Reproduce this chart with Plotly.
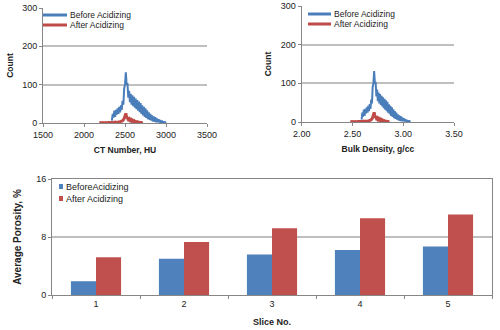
import plotly.graph_objects as go

# ---------------- data ----------------
# histogram of CT number (10 HU bins)
ct_before = list(range(2340, 3001, 10))
count_before = [6, 24, 14, 32, 16, 34, 22, 38, 24, 42, 28, 46, 34, 58, 48, 90, 100, 132, 100, 104,
                66, 84, 54, 76, 48, 72, 44, 68, 40, 64, 36, 60, 32, 56, 28, 52, 24, 46, 20, 42,
                16, 38, 13, 33, 10, 28, 8, 24, 6, 20, 4, 17, 3, 15, 2, 12, 2, 10, 1, 8,
                1, 6, 0, 4, 0, 2, 0]
ct_after = list(range(2190, 2721, 10))
count_after = [0, 1, 0, 1, 0, 1, 0, 1, 0, 1, 0, 1, 1, 0, 1, 1, 0, 1, 2, 1,
               2, 1, 2, 2, 3, 2, 4, 5, 6, 8, 12, 18, 25, 15, 13, 9, 11, 7, 9, 5,
               7, 4, 6, 3, 4, 2, 3, 1, 2, 1, 1, 1, 0, 0]
# CT -> bulk density calibration
dens_at_2340 = 2.59
dens_per_hu = 0.000727
dens_before = [round(dens_at_2340 + (c - 2340) * dens_per_hu, 4) for c in ct_before]
dens_after = [round(dens_at_2340 + (c - 2340) * dens_per_hu, 4) for c in ct_after]

slices = ["1", "2", "3", "4", "5"]
porosity_before = [1.9, 5.0, 5.6, 6.2, 6.7]
porosity_after = [5.2, 7.3, 9.2, 10.6, 11.1]

hist_names = ["Before Acidizing", "After Acidizing"]
bar_names = ["BeforeAcidizing", "After Acidizing"]

BLUE_L = "#4A7EBB"
RED_L = "#BE4B48"
BLUE_B = "#4F81BD"
RED_B = "#C0504D"
AX = "#868686"
GRID = "#BFBFBF"
TXT = "#222222"
FONT = "Liberation Sans, Arial, sans-serif"

fig = go.Figure()

fig.add_trace(go.Scatter(x=ct_before, y=count_before, mode="lines", name=hist_names[0],
                         line=dict(color=BLUE_L, width=2, simplify=False), xaxis="x", yaxis="y"))
fig.add_trace(go.Scatter(x=ct_after, y=count_after, mode="lines", name=hist_names[1],
                         line=dict(color=RED_L, width=3, simplify=False), xaxis="x", yaxis="y"))
fig.add_trace(go.Scatter(x=dens_before, y=count_before, mode="lines", name=hist_names[0],
                         line=dict(color=BLUE_L, width=2, simplify=False), xaxis="x2", yaxis="y2"))
fig.add_trace(go.Scatter(x=dens_after, y=count_after, mode="lines", name=hist_names[1],
                         line=dict(color=RED_L, width=3, simplify=False), xaxis="x2", yaxis="y2"))
fig.add_trace(go.Bar(x=slices, y=porosity_before, name=bar_names[0], marker_color=BLUE_B,
                     marker_line_width=0, xaxis="x3", yaxis="y3"))
fig.add_trace(go.Bar(x=slices, y=porosity_after, name=bar_names[1], marker_color=RED_B,
                     marker_line_width=0, xaxis="x3", yaxis="y3"))

W, H = 500, 330
def dx(a, b):
    return [a / W, b / W]
def dy(top, bottom):
    return [1 - bottom / H, 1 - top / H]

tick_font = dict(family=FONT, size=9, color=TXT)
title_font = dict(family=FONT, size=8.5, color=TXT)

top_x_common = dict(showline=True, linecolor=AX, linewidth=1, ticks="outside", ticklen=3,
                    tickcolor=AX, showgrid=False, zeroline=False, tickfont=tick_font,
                    automargin=False)
top_y_common = dict(range=[0, 300], tickvals=[0, 100, 200, 300], showline=True, linecolor=AX,
                    linewidth=1, ticks="outside", ticklen=3, tickcolor=AX, showgrid=True,
                    gridcolor=GRID, gridwidth=1.5, zeroline=False, tickfont=tick_font,
                    automargin=False,
                    title=dict(text="<b>Count</b>", font=title_font, standoff=7))

fig.update_layout(
    width=W, height=H,
    margin=dict(l=0, r=0, t=0, b=0),
    paper_bgcolor="white", plot_bgcolor="white",
    font=dict(family=FONT, color=TXT),
    barmode="group", bargap=0.43, bargroupgap=0,
    showlegend=False,
    xaxis=dict(domain=dx(43, 207), range=[1500, 3500], tickvals=[1500, 2000, 2500, 3000, 3500],
               title=dict(text="<b>CT Number, HU</b>", font=title_font, standoff=8),
               anchor="y", **top_x_common),
    yaxis=dict(domain=dy(8, 123), anchor="x", **top_y_common),
    xaxis2=dict(domain=dx(301.7, 454), range=[2.0, 3.5], tickvals=[2.0, 2.5, 3.0, 3.5],
                tickformat=".2f",
                title=dict(text="<b>Bulk Density, g/cc</b>", font=title_font, standoff=8),
                anchor="y2", **top_x_common),
    yaxis2=dict(domain=dy(6, 122), anchor="x2", **top_y_common),
    xaxis3=dict(domain=dx(52, 492), type="category", showline=True, mirror=True, linecolor=AX,
                linewidth=1, ticks="outside", ticklen=3, tickcolor=AX, tickson="boundaries",
                showgrid=False, tickfont=tick_font, anchor="y3", automargin=False,
                title=dict(text="<b>Slice No.</b>", font=dict(family=FONT, size=9, color=TXT),
                           standoff=10)),
    yaxis3=dict(domain=dy(179, 295), range=[0, 16], tickvals=[0, 8, 16], showline=True,
                mirror=True, linecolor=AX, linewidth=1, ticks="outside", ticklen=3, tickcolor=AX,
                showgrid=True, gridcolor=GRID, gridwidth=1.5, zeroline=False, tickfont=tick_font,
                anchor="x3", automargin=False,
                title=dict(text="<b>Average Porosity, %</b>",
                           font=dict(family=FONT, size=10, color=TXT), standoff=12)),
)

# ---- legends (drawn compactly, as in the original) ----
def px_x(p):
    return p / W
def px_y(p):
    return 1 - p / H

shapes = []
annots = []
# top-left and top-right line legends
for (x0, x1, ys) in [(43, 67, (15, 25)), (308, 331, (14, 24))]:
    for name, col, yy in zip(hist_names, [BLUE_L, RED_L], ys):
        shapes.append(dict(type="line", xref="paper", yref="paper", x0=px_x(x0), x1=px_x(x1),
                           y0=px_y(yy), y1=px_y(yy), line=dict(color=col, width=3)))
        annots.append(dict(text=name, xref="paper", yref="paper", x=px_x(x1 + 1), y=px_y(yy),
                           xanchor="left", yanchor="middle", showarrow=False,
                           font=dict(family=FONT, size=8.5, color=TXT)))
# bar legend
for name, col, yy in zip(bar_names, [BLUE_B, RED_B], (186.5, 198.5)):
    shapes.append(dict(type="rect", xref="paper", yref="paper", x0=px_x(59), x1=px_x(63),
                       y0=px_y(yy + 2.5), y1=px_y(yy - 2.5), fillcolor=col, line=dict(width=0)))
    annots.append(dict(text=name, xref="paper", yref="paper", x=px_x(63.5), y=px_y(yy),
                       xanchor="left", yanchor="middle", showarrow=False,
                       font=dict(family=FONT, size=9, color=TXT)))
fig.update_layout(shapes=shapes, annotations=annots)

fig.write_html("out.html", post_script="document.body.style.margin='0';",
               config={"displayModeBar": False})
